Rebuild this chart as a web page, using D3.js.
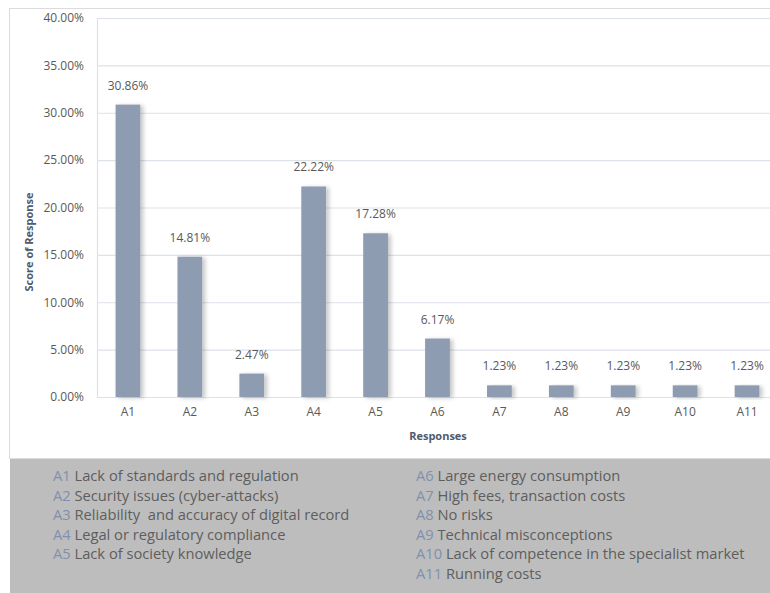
<!DOCTYPE html>
<html lang="en">
<head>
<meta charset="UTF-8">
<title>Score of Response</title>
<style>
  body { margin: 0; background: #fff; }
  svg text { font-family: "Open Sans", sans-serif; }
</style>
</head>
<body>
<svg id="chart" width="770" height="593"></svg>
<script src="https://d3js.org/d3.v7.min.js"></script>
<script>
// chart data
const categories = ["A1", "A2", "A3", "A4", "A5", "A6", "A7", "A8", "A9", "A10", "A11"];
const scores = [0.3086, 0.1481, 0.0247, 0.2222, 0.1728, 0.0617, 0.0123, 0.0123, 0.0123, 0.0123, 0.0123];
const yTicks = [0, 0.05, 0.10, 0.15, 0.20, 0.25, 0.30, 0.35, 0.40];
const legendLeft = [
  ["A1", "Lack of standards and regulation"],
  ["A2", "Security issues (cyber-attacks)"],
  ["A3", "Reliability  and accuracy of digital record"],
  ["A4", "Legal or regulatory compliance"],
  ["A5", "Lack of society knowledge"]
];
const legendRight = [
  ["A6", "Large energy consumption"],
  ["A7", "High fees, transaction costs"],
  ["A8", "No risks"],
  ["A9", "Technical misconceptions"],
  ["A10", "Lack of competence in the specialist market"],
  ["A11", "Running costs"]
];

const svg = d3.select("#chart");

// outer chart box and grey legend panel
svg.append("rect")
  .attr("x", 9.5).attr("y", 8.5)
  .attr("width", 800).attr("height", 450)
  .attr("fill", "#fff").attr("stroke", "#dcdcdc");

svg.append("rect")
  .attr("x", 10).attr("y", 459)
  .attr("width", 770).attr("height", 140)
  .attr("fill", "#bdbdbd");

// drop shadow for bars
const defs = svg.append("defs");
defs.append("filter")
  .attr("id", "shadow")
  .attr("x", "-30%").attr("y", "-10%")
  .attr("width", "180%").attr("height", "130%")
  .append("feDropShadow")
  .attr("dx", 3).attr("dy", 1)
  .attr("stdDeviation", 2)
  .attr("flood-color", "#000")
  .attr("flood-opacity", 0.22);

const plotLeft = 97, plotRight = 778, plotTop = 18, plotBottom = 397;

const x = d3.scaleBand()
  .domain(categories)
  .range([plotLeft, plotRight])
  .paddingInner(0.6)
  .paddingOuter(0.3);

const y = d3.scaleLinear()
  .domain([0, 0.4])
  .range([plotBottom, plotTop]);

const fmt = d3.format(".2%");

// gridlines
svg.append("g")
  .selectAll("line")
  .data(yTicks)
  .join("line")
  .attr("x1", plotLeft).attr("x2", plotRight)
  .attr("y1", d => y(d) + 0.5).attr("y2", d => y(d) + 0.5)
  .attr("stroke", "#dde1e8")
  .attr("stroke-width", 1.2);

svg.append("line")
  .attr("x1", plotLeft + 0.5).attr("x2", plotLeft + 0.5)
  .attr("y1", plotTop).attr("y2", plotBottom)
  .attr("stroke", "#dde1e8")
  .attr("stroke-width", 1.2);

// y axis
const yAxis = svg.append("g")
  .attr("transform", `translate(${plotLeft},0)`)
  .call(d3.axisLeft(y).tickValues(yTicks).tickFormat(fmt).tickSize(0).tickPadding(13));
yAxis.select(".domain").remove();
yAxis.selectAll("text")
  .attr("fill", "#595959")
  .style("font-size", "12px");

// x axis
const xAxis = svg.append("g")
  .attr("transform", `translate(0,${plotBottom})`)
  .call(d3.axisBottom(x).tickSize(0).tickPadding(10));
xAxis.select(".domain").remove();
xAxis.selectAll("text")
  .attr("fill", "#595959")
  .style("font-size", "12px");

// bars
svg.append("g")
  .selectAll("rect")
  .data(scores)
  .join("rect")
  .attr("x", (d, i) => x(categories[i]))
  .attr("y", d => y(d))
  .attr("width", x.bandwidth())
  .attr("height", d => plotBottom - y(d))
  .attr("fill", "#8e9cb1")
  .attr("filter", "url(#shadow)");

// value labels
svg.append("g")
  .selectAll("text")
  .data(scores)
  .join("text")
  .attr("x", (d, i) => x(categories[i]) + x.bandwidth() / 2)
  .attr("y", d => y(d) - 15)
  .attr("text-anchor", "middle")
  .attr("fill", "#595959")
  .style("font-size", "12px")
  .text(d => fmt(d));

// axis titles
svg.append("text")
  .attr("x", 438).attr("y", 440)
  .attr("text-anchor", "middle")
  .attr("fill", "#505a6a")
  .style("font-size", "11px")
  .style("font-weight", "bold")
  .text("Responses");

svg.append("text")
  .attr("transform", "translate(33,242) rotate(-90)")
  .attr("text-anchor", "middle")
  .attr("fill", "#505a6a")
  .style("font-size", "11px")
  .style("font-weight", "bold")
  .text("Score of Response");

// legend
function legendColumn(items, x0) {
  const t = svg.append("g")
    .selectAll("text")
    .data(items)
    .join("text")
    .attr("x", x0)
    .attr("y", (d, i) => 481 + i * 19.6)
    .style("font-size", "14.7px")
    .attr("xml:space", "preserve");
  t.append("tspan").attr("fill", "#8090ad").text(d => d[0]);
  t.append("tspan").attr("fill", "#5e5e5e").text(d => " " + d[1]);
}
legendColumn(legendLeft, 53);
legendColumn(legendRight, 416);
</script>
</body>
</html>
